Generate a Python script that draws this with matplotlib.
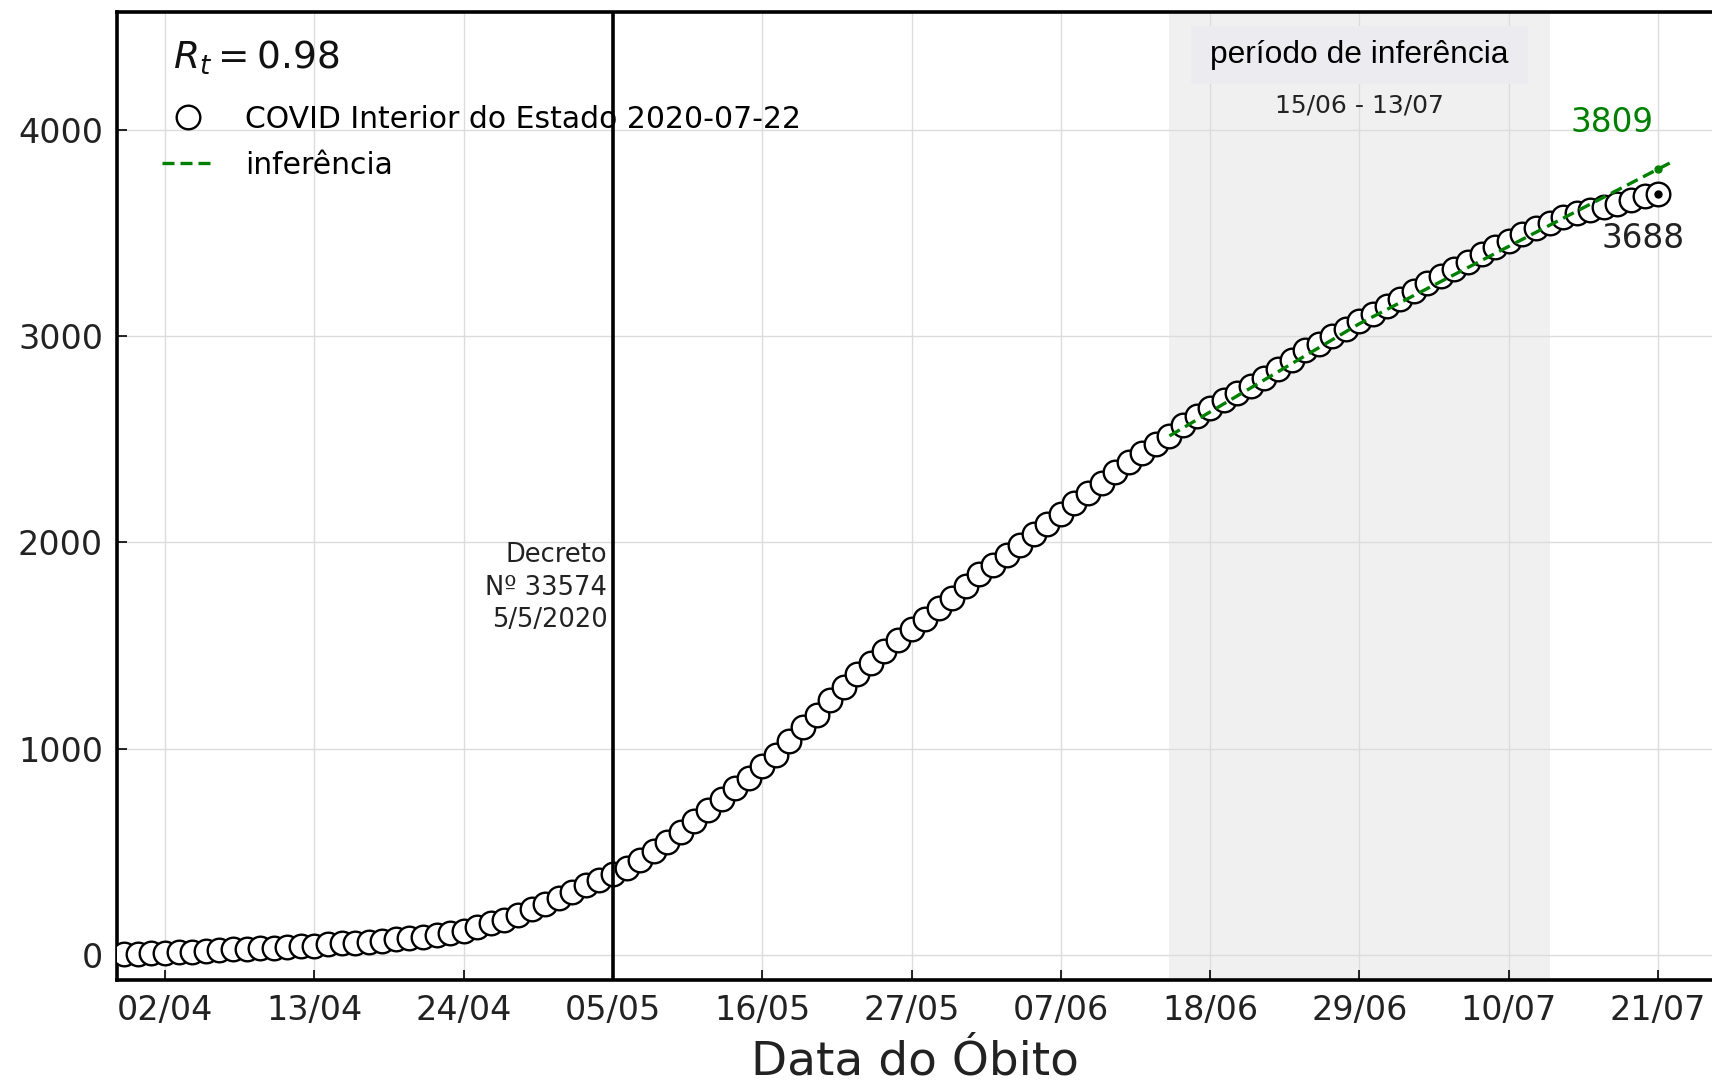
import matplotlib
matplotlib.use("Agg")
import matplotlib.pyplot as plt
import pandas as pd

# ---------------- data ----------------
start_date = "2020-03-30"
end_date = "2020-07-21"
obitos = [
    5, 7, 9, 12, 15, 18, 21, 24, 28, 31,
    34, 37, 41, 44, 47, 52, 57, 61, 65, 71,
    77, 83, 89, 98, 109, 118, 135, 154, 173, 195,
    222, 250, 276, 307, 338, 366, 392, 422, 461, 507,
    550, 598, 652, 703, 758, 811, 860, 916, 969, 1037,
    1105, 1165, 1235, 1300, 1362, 1415, 1472, 1528, 1580, 1630,
    1680, 1732, 1790, 1845, 1893, 1940, 1990, 2040, 2090, 2140,
    2190, 2240, 2290, 2340, 2390, 2435, 2478, 2518, 2570, 2612,
    2652, 2688, 2722, 2756, 2795, 2840, 2885, 2930, 2962, 2998,
    3035, 3075, 3107, 3144, 3180, 3216, 3257, 3289, 3326, 3358,
    3398, 3430, 3460, 3493, 3525, 3549, 3578, 3598, 3612, 3624,
    3640, 3660, 3677, 3688,
]
inf_dates = ["2020-06-15", "2020-06-29", "2020-07-22"]
inf_values = [2516, 3060, 3843]
inf_end_date = "2020-07-21"
inf_end_value = 3809
periodo_inicio = "2020-06-15"
periodo_fim = "2020-07-13"
decreto_date = "2020-05-05"
rt_value = 0.98
serie_label = "COVID Interior do Estado 2020-07-22"
inf_label = "inferência"
x_tick_dates = ["2020-04-02", "2020-04-13", "2020-04-24", "2020-05-05",
                "2020-05-16", "2020-05-27", "2020-06-07", "2020-06-18",
                "2020-06-29", "2020-07-10", "2020-07-21"]
x_tick_labels = ["02/04", "13/04", "24/04", "05/05", "16/05", "27/05",
                 "07/06", "18/06", "29/06", "10/07", "21/07"]
y_ticks = [0, 1000, 2000, 3000, 4000]
y_tick_labels = ["0", "1000", "2000", "3000", "4000"]

dates = pd.date_range(start_date, end_date, freq="D")

# ---------------- figure ----------------
plt.rcParams["font.family"] = ["DejaVu Sans"]
fig = plt.figure(figsize=(17.12, 10.87), dpi=100)
W, H = 1712, 1087
ax = fig.add_axes([117 / W, (H - 980) / H, 1595 / W, 968 / H])

# shaded inference period
ax.axvspan(pd.Timestamp(periodo_inicio), pd.Timestamp(periodo_fim),
           color="#F0F0F0", zorder=0, lw=0)

ax.grid(True, color="#DCDCDC", lw=1.0, zorder=0.5)
ax.set_axisbelow(True)

# data
ax.plot(dates, obitos, "o", ms=17, mfc="white", mec="black", mew=1.7,
        zorder=3, label=serie_label)
ax.plot(dates[-1:], obitos[-1:], "o", ms=5, color="black", zorder=4)

# inference
ax.plot(pd.to_datetime(inf_dates), inf_values, "--", color="green", lw=2.4,
        dashes=(3.6, 1.8), zorder=5, label=inf_label)
ax.plot([pd.Timestamp(inf_end_date)], [inf_end_value], "o", ms=5,
        color="green", zorder=5)

# decreto line
ax.axvline(pd.Timestamp(decreto_date), color="black", lw=2.6, zorder=6)
ax.text(pd.Timestamp(decreto_date) - pd.Timedelta(hours=10), 1781,
        "Decreto\nNº 33574\n5/5/2020", ha="right", va="center",
        fontsize=18.5, color="#222222", linespacing=1.32, zorder=7)

# annotations for end values
ax.annotate(f"{inf_end_value}", xy=(pd.Timestamp(inf_end_date), inf_end_value),
            xytext=(-5, 30), textcoords="offset pixels", ha="right",
            va="bottom", fontsize=23.5, color="green")
ax.annotate(f"{obitos[-1]}", xy=(dates[-1], obitos[-1]),
            xytext=(-15, -28), textcoords="offset pixels", ha="center",
            va="top", fontsize=23.5, color="#222222")

# inference period label
mid = pd.Timestamp(periodo_inicio) + (pd.Timestamp(periodo_fim) - pd.Timestamp(periodo_inicio)) / 2
trans = ax.get_xaxis_transform()
ax.text(mid, 0.9557, "período de inferência", transform=trans, ha="center",
        va="center", fontsize=22.9, family="Liberation Sans", color="black",
        bbox=dict(boxstyle="square,pad=0.6", mutation_aspect=0.75,
                  fc="#EBEBF0", ec="none"),
        zorder=8)
ax.text(mid, 0.903, "15/06 - 13/07", transform=trans, ha="center",
        va="center", fontsize=18, color="#222222", zorder=8)

# Rt text
ax.text(0.0348, 0.941, rf"$R_t = {rt_value}$", transform=ax.transAxes,
        ha="left", va="baseline", fontsize=27, color="#111111")

# legend
leg = ax.legend(loc="upper left", bbox_to_anchor=(0.028, 0.904),
                frameon=False, fontsize=21.5, borderpad=0, borderaxespad=0,
                handlelength=1.78, handletextpad=1.0, labelspacing=0.56)

# axes limits and ticks
ax.set_xlim(pd.Timestamp("2020-03-29 11:00"), pd.Timestamp("2020-07-24 23:20"))
ax.set_ylim(-120, 4570)
ax.set_xticks(pd.to_datetime(x_tick_dates))
ax.set_xticklabels(x_tick_labels)
ax.set_yticks(y_ticks)
ax.set_yticklabels(y_tick_labels)
ax.tick_params(axis="both", direction="in", length=7, width=1.2,
               labelsize=24, pad=10, colors="black", labelcolor="#222222")
ax.tick_params(axis="x", pad=10)

for side in ["left", "bottom", "top"]:
    ax.spines[side].set_linewidth(2.6)
    ax.spines[side].set_color("black")
ax.spines["right"].set_visible(False)

ax.set_xlabel("Data do Óbito", fontsize=33.8, color="#222222", labelpad=9)

fig.savefig("out.png", dpi=100)
